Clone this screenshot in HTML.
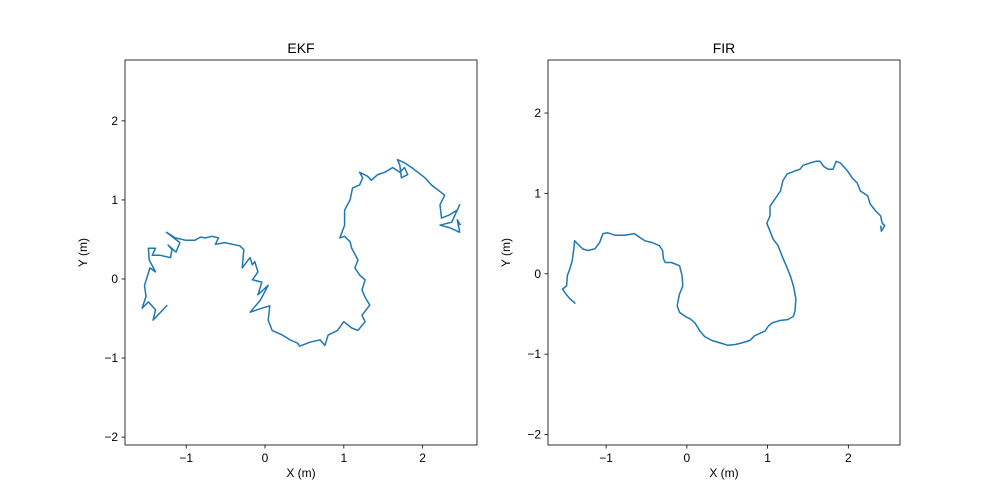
<!DOCTYPE html>
<html><head><meta charset="utf-8">
<style>
body{margin:0;background:#fff;}
svg{display:block;font-family:"Liberation Sans","DejaVu Sans",sans-serif;}
</style></head>
<body>
<svg id="fig" width="1000" height="500" xmlns="http://www.w3.org/2000/svg"></svg>
<script>
const ekfX=[-1.24,-1.42,-1.39,-1.48,-1.56,-1.51,-1.53,-1.46,-1.39,-1.47,-1.48,-1.39,-1.43,-1.33,-1.20,-1.18,-1.23,-1.13,-1.08,-1.25,-1.14,-1.01,-0.89,-0.82,-0.76,-0.67,-0.59,-0.63,-0.51,-0.42,-0.32,-0.27,-0.29,-0.19,-0.16,-0.13,-0.09,-0.16,-0.04,-0.09,0.04,-0.06,-0.19,-0.04,0.06,0.04,0.09,0.22,0.32,0.41,0.44,0.57,0.70,0.76,0.80,0.92,1.00,1.10,1.18,1.27,1.23,1.33,1.27,1.23,1.27,1.20,1.14,1.18,1.10,1.08,1.01,0.95,1.01,1.01,1.08,1.11,1.20,1.24,1.20,1.30,1.35,1.43,1.52,1.62,1.71,1.77,1.81,1.73,1.71,1.68,1.77,1.86,1.94,2.03,2.11,2.19,2.28,2.22,2.24,2.34,2.44,2.47,2.37,2.22,2.34,2.47,2.44,2.48];
const ekfY=[-0.33,-0.52,-0.39,-0.29,-0.37,-0.22,-0.08,0.14,0.09,0.24,0.39,0.39,0.30,0.30,0.27,0.37,0.43,0.34,0.46,0.59,0.52,0.49,0.49,0.53,0.52,0.54,0.52,0.44,0.46,0.44,0.42,0.37,0.14,0.27,0.18,0.22,0.09,-0.01,-0.04,-0.20,-0.08,-0.27,-0.42,-0.37,-0.34,-0.52,-0.65,-0.71,-0.77,-0.81,-0.85,-0.80,-0.77,-0.84,-0.71,-0.65,-0.54,-0.62,-0.65,-0.54,-0.46,-0.33,-0.23,-0.14,-0.01,0.05,0.14,0.24,0.39,0.47,0.54,0.52,0.68,0.87,1.00,1.15,1.19,1.28,1.35,1.30,1.25,1.32,1.35,1.41,1.35,1.41,1.32,1.28,1.44,1.51,1.47,1.41,1.35,1.28,1.19,1.13,1.06,0.94,0.77,0.81,0.87,0.94,0.72,0.68,0.65,0.59,0.75,0.68];
const firX=[-1.38,-1.45,-1.50,-1.54,-1.49,-1.48,-1.45,-1.42,-1.40,-1.39,-1.35,-1.29,-1.23,-1.14,-1.08,-1.04,-0.98,-0.89,-0.77,-0.65,-0.58,-0.52,-0.43,-0.34,-0.30,-0.29,-0.27,-0.19,-0.09,-0.06,-0.05,-0.09,-0.11,-0.12,-0.09,-0.02,0.04,0.10,0.16,0.22,0.31,0.41,0.51,0.60,0.68,0.78,0.84,0.97,1.01,1.06,1.16,1.25,1.32,1.34,1.35,1.32,1.28,1.23,1.18,1.13,1.07,1.03,0.99,1.03,1.03,1.09,1.16,1.19,1.24,1.34,1.40,1.44,1.53,1.60,1.65,1.69,1.75,1.81,1.85,1.90,1.99,2.05,2.11,2.15,2.24,2.27,2.34,2.40,2.42,2.45,2.41,2.40];
const firY=[-0.37,-0.31,-0.25,-0.19,-0.15,-0.02,0.06,0.16,0.31,0.41,0.37,0.31,0.29,0.31,0.39,0.50,0.51,0.48,0.48,0.50,0.45,0.41,0.39,0.35,0.29,0.19,0.14,0.14,0.10,-0.02,-0.15,-0.25,-0.34,-0.40,-0.48,-0.53,-0.56,-0.61,-0.71,-0.78,-0.83,-0.86,-0.89,-0.88,-0.86,-0.83,-0.77,-0.71,-0.65,-0.61,-0.58,-0.57,-0.53,-0.46,-0.31,-0.15,-0.02,0.10,0.22,0.35,0.43,0.53,0.63,0.72,0.84,0.93,1.03,1.16,1.24,1.28,1.30,1.35,1.38,1.40,1.40,1.34,1.30,1.30,1.40,1.38,1.28,1.19,1.13,1.03,0.97,0.87,0.78,0.72,0.63,0.60,0.53,0.60];
const xTicks=[-1,0,1,2];
const yTicks=[-2,-1,0,1,2];
const NS="http://www.w3.org/2000/svg";
const svg=document.getElementById('fig');
function mk(t,a,p){const e=document.createElementNS(NS,t);for(const k in a)e.setAttribute(k,a[k]);(p||svg).appendChild(e);return e;}
function panel(name,L,R,T,B,x0,x1,y0,y1,xs,ys){
  const g=mk('g',{});
  
  
  const sx=v=>L+(v-x0)/(x1-x0)*(R-L);
  const sy=v=>B-(v-y0)/(y1-y0)*(B-T);
  const d=xs.map((v,i)=>(i?'L':'M')+sx(v).toFixed(1)+','+sy(ys[i]).toFixed(1)).join('');
  const p=mk('path',{d:d,fill:'none',stroke:'#1f77b4','stroke-width':1.5,'stroke-linejoin':'round'},g);
  
  
  const r=mk('rect',{x:L,y:T,width:R-L,height:B-T,fill:'none',stroke:'#000','stroke-width':0.8},g);
  
  
  xTicks.forEach(v=>{const x=sx(v);mk('line',{x1:x,x2:x,y1:B,y2:B+3.5,stroke:'#000','stroke-width':0.8},g);
    const t=mk('text',{x:x,y:B+17,'font-size':12,'text-anchor':'middle'},g);t.textContent=v<0?'\u2212'+(-v):v;
    });
  yTicks.forEach(v=>{const y=sy(v);mk('line',{x1:L,x2:L-3.5,y1:y,y2:y,stroke:'#000','stroke-width':0.8},g);
    const t=mk('text',{x:L-7,y:y+4,'font-size':12,'text-anchor':'end'},g);t.textContent=v<0?'\u2212'+(-v):v;
    });
  const tt=mk('text',{x:(L+R)/2,y:T-7,'font-size':14,'text-anchor':'middle'},g);tt.textContent=name;
  
  const xl=mk('text',{x:(L+R)/2,y:B+32,'font-size':12,'text-anchor':'middle'},g);xl.textContent='X (m)';
  
  const cy=(T+B)/2,cx=L-38;
  const yl=mk('text',{x:cx,y:cy,'font-size':12,'text-anchor':'middle',transform:'rotate(-90 '+cx+' '+cy+')'},g);yl.textContent='Y (m)';
  
}
panel('EKF',125,477,60,445,-1.777,2.69,-2.10,2.77,ekfX,ekfY);
panel('FIR',548,900,60,445,-1.72,2.64,-2.13,2.66,firX,firY);
</script>
</body></html>
